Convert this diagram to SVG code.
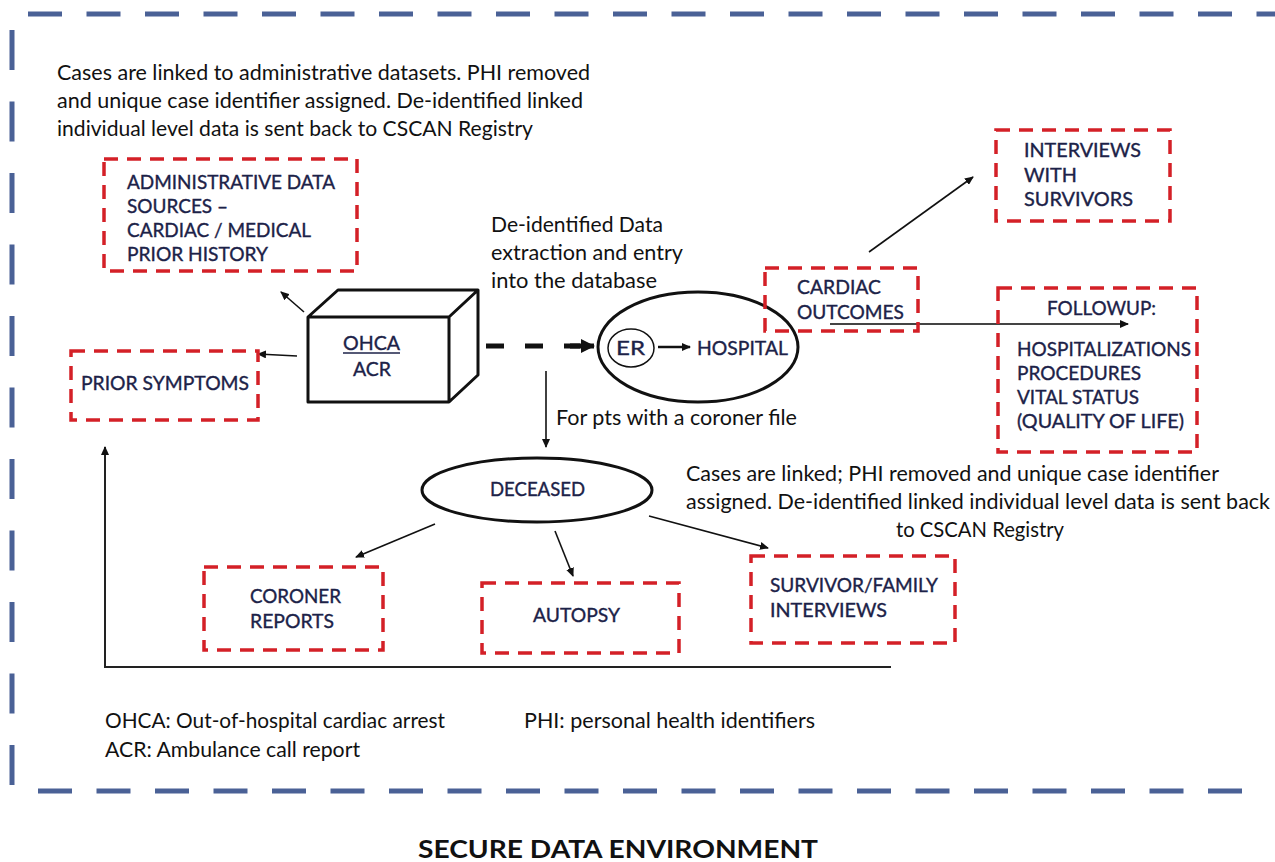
<svg xmlns="http://www.w3.org/2000/svg" width="1275" height="862" viewBox="0 0 1275 862">
<defs>
<style>
.t{font-family:Lato,"Liberation Sans",sans-serif;font-size:20.5px;fill:#111}
.b{font-family:Lato,"Liberation Sans",sans-serif;font-size:19px;fill:#1c2248;stroke:#1c2248;stroke-width:0.35}
.rb{fill:none;stroke:#d42027;stroke-width:3.5;stroke-dasharray:14 9}
.bd{fill:none;stroke:#4a6196;stroke-width:5}
.c{fill:none;stroke:#111;stroke-width:1.6}
.ttl{font-family:Lato,"Liberation Sans",sans-serif;font-size:25px;font-weight:bold;fill:#111}
</style>
<marker id="ah" markerWidth="9" markerHeight="8" refX="8" refY="4" orient="auto" markerUnits="userSpaceOnUse">
<path d="M0,0 L9,4 L0,8 Z" fill="#111"/>
</marker>
<marker id="ahb" markerWidth="14" markerHeight="14" refX="13" refY="7" orient="auto" markerUnits="userSpaceOnUse">
<path d="M0,0 L14,7 L0,14 Z" fill="#111"/>
</marker>
</defs>
<rect width="1275" height="862" fill="#fff"/>

<g id="border">
<line class="bd" x1="28" y1="14" x2="1275" y2="14" stroke-dasharray="34 24.5"/>
<line class="bd" x1="12" y1="30" x2="12" y2="786" stroke-dasharray="40 31.5"/>
<line class="bd" x1="38" y1="791" x2="1256" y2="791" stroke-dasharray="34 24.5"/>
</g>

<g id="connectors">
<line class="c" x1="304" y1="312" x2="281" y2="292" marker-end="url(#ah)"/>
<line class="c" x1="297" y1="356" x2="258" y2="354" marker-end="url(#ah)"/>
<line x1="486" y1="346" x2="580" y2="346" stroke="#111" stroke-width="5" stroke-dasharray="18 21"/>
<line x1="570" y1="346" x2="594" y2="346" stroke="#111" stroke-width="5" marker-end="url(#ahb)"/>
<line class="c" x1="546" y1="371" x2="546" y2="447" marker-end="url(#ah)"/>
<line class="c" x1="869" y1="252" x2="973" y2="177" marker-end="url(#ah)"/>
<line x1="830" y1="324" x2="1128" y2="324" stroke="#444" stroke-width="2" marker-end="url(#ah)"/>
<line class="c" x1="435" y1="524" x2="356" y2="557" marker-end="url(#ah)"/>
<line class="c" x1="555" y1="531" x2="573" y2="576" marker-end="url(#ah)"/>
<line class="c" x1="649" y1="516" x2="768" y2="548" marker-end="url(#ah)"/>
<polyline fill="none" stroke="#222" stroke-width="2" points="891,667 105,667 105,447" marker-end="url(#ah)"/>
</g>

<g id="note-top">
<text class="t" x="57" y="80" textLength="533" lengthAdjust="spacingAndGlyphs">Cases are linked to administrative datasets. PHI removed</text>
<text class="t" x="57" y="108" textLength="526" lengthAdjust="spacingAndGlyphs">and unique case identifier assigned. De-identified linked</text>
<text class="t" x="57" y="136" textLength="476" lengthAdjust="spacingAndGlyphs">individual level data is sent back to CSCAN Registry</text>
</g>

<g id="admin">
<rect class="rb" x="104" y="159" width="253" height="112"/>
<text class="b" x="127" y="189" textLength="208" lengthAdjust="spacingAndGlyphs">ADMINISTRATIVE DATA</text>
<text class="b" x="127" y="213" textLength="101" lengthAdjust="spacingAndGlyphs">SOURCES –</text>
<text class="b" x="127" y="237" textLength="184" lengthAdjust="spacingAndGlyphs">CARDIAC / MEDICAL</text>
<text class="b" x="127" y="261" textLength="141" lengthAdjust="spacingAndGlyphs">PRIOR HISTORY</text>
</g>

<g id="note-extract">
<text class="t" x="491" y="232" textLength="172" lengthAdjust="spacingAndGlyphs">De-identified Data</text>
<text class="t" x="491" y="260" textLength="192" lengthAdjust="spacingAndGlyphs">extraction and entry</text>
<text class="t" x="491" y="288" textLength="166" lengthAdjust="spacingAndGlyphs">into the database</text>
</g>

<g id="ohca">
<path d="M308,317 L338,290 L478,290 L478,375 L449,402 L308,402 Z M308,317 L449,317 L478,290 M449,317 L449,402" fill="#fff" stroke="#111" stroke-width="3" stroke-linejoin="round"/>
<text class="b" x="343" y="350" textLength="57" lengthAdjust="spacingAndGlyphs">OHCA</text>
<line x1="343" y1="353" x2="400" y2="353" stroke="#1c2248" stroke-width="1.3"/>
<text class="b" x="353" y="376" textLength="38" lengthAdjust="spacingAndGlyphs">ACR</text>
</g>

<g id="prior-symptoms">
<rect class="rb" x="71" y="351" width="187" height="69"/>
<text class="b" x="81" y="390" textLength="168" lengthAdjust="spacingAndGlyphs">PRIOR SYMPTOMS</text>
</g>

<g id="hospital">
<ellipse cx="698" cy="347" rx="100" ry="55" fill="#fff" stroke="#111" stroke-width="3"/>
<ellipse cx="631" cy="348" rx="23" ry="19" fill="none" stroke="#111" stroke-width="1.5"/>
<text class="b" x="616" y="355" textLength="29" lengthAdjust="spacingAndGlyphs">ER</text>
<line x1="658" y1="347" x2="690" y2="347" stroke="#111" stroke-width="2.5" marker-end="url(#ah)"/>
<text class="b" x="697" y="355" textLength="91" lengthAdjust="spacingAndGlyphs">HOSPITAL</text>
</g>

<g id="cardiac-outcomes">
<rect class="rb" x="765" y="268" width="153" height="63"/>
<text class="b" x="797" y="294" textLength="84" lengthAdjust="spacingAndGlyphs">CARDIAC</text>
<text class="b" x="797" y="319" textLength="107" lengthAdjust="spacingAndGlyphs">OUTCOMES</text>
</g>

<g id="interviews-survivors">
<rect class="rb" x="996" y="130" width="174" height="91"/>
<text class="b" x="1024" y="157" textLength="117" lengthAdjust="spacingAndGlyphs">INTERVIEWS</text>
<text class="b" x="1024" y="182" textLength="53" lengthAdjust="spacingAndGlyphs">WITH</text>
<text class="b" x="1024" y="206" textLength="109" lengthAdjust="spacingAndGlyphs">SURVIVORS</text>
</g>

<g id="followup">
<rect class="rb" x="998" y="288" width="199" height="164"/>
<text class="b" x="1047" y="315" textLength="109" lengthAdjust="spacingAndGlyphs">FOLLOWUP:</text>
<text class="b" x="1017" y="356" textLength="174" lengthAdjust="spacingAndGlyphs">HOSPITALIZATIONS</text>
<text class="b" x="1017" y="380" textLength="124" lengthAdjust="spacingAndGlyphs">PROCEDURES</text>
<text class="b" x="1017" y="404" textLength="122" lengthAdjust="spacingAndGlyphs">VITAL STATUS</text>
<text class="b" x="1017" y="428" textLength="167" lengthAdjust="spacingAndGlyphs">(QUALITY OF LIFE)</text>
</g>

<text class="t" x="556" y="425" textLength="241" lengthAdjust="spacingAndGlyphs">For pts with a coroner file</text>

<g id="deceased">
<ellipse cx="537" cy="490" rx="115" ry="32" fill="#fff" stroke="#111" stroke-width="3"/>
<text class="b" x="490" y="496" textLength="95" lengthAdjust="spacingAndGlyphs">DECEASED</text>
</g>

<g id="note-linked">
<text class="t" x="686" y="481" textLength="533" lengthAdjust="spacingAndGlyphs">Cases are linked; PHI removed and unique case identifier</text>
<text class="t" x="686" y="509" textLength="584" lengthAdjust="spacingAndGlyphs">assigned. De-identified linked individual level data is sent back</text>
<text class="t" x="896" y="537" textLength="168" lengthAdjust="spacingAndGlyphs">to CSCAN Registry</text>
</g>

<g id="coroner">
<rect class="rb" x="204" y="567" width="179" height="83"/>
<text class="b" x="250" y="603" textLength="91" lengthAdjust="spacingAndGlyphs">CORONER</text>
<text class="b" x="250" y="628" textLength="84" lengthAdjust="spacingAndGlyphs">REPORTS</text>
</g>

<g id="autopsy">
<rect class="rb" x="482" y="583" width="197" height="70"/>
<text class="b" x="533" y="622" textLength="87" lengthAdjust="spacingAndGlyphs">AUTOPSY</text>
</g>

<g id="survivor-family">
<rect class="rb" x="751" y="556" width="204" height="87"/>
<text class="b" x="770" y="592" textLength="168" lengthAdjust="spacingAndGlyphs">SURVIVOR/FAMILY</text>
<text class="b" x="770" y="617" textLength="117" lengthAdjust="spacingAndGlyphs">INTERVIEWS</text>
</g>

<g id="legend">
<text class="t" x="105" y="728" textLength="340" lengthAdjust="spacingAndGlyphs">OHCA: Out-of-hospital cardiac arrest</text>
<text class="t" x="105" y="757" textLength="255" lengthAdjust="spacingAndGlyphs">ACR: Ambulance call report</text>
<text class="t" x="524" y="728" textLength="291" lengthAdjust="spacingAndGlyphs">PHI: personal health identifiers</text>
</g>

<text class="ttl" x="418" y="858" textLength="400" lengthAdjust="spacingAndGlyphs">SECURE DATA ENVIRONMENT</text>
</svg>
